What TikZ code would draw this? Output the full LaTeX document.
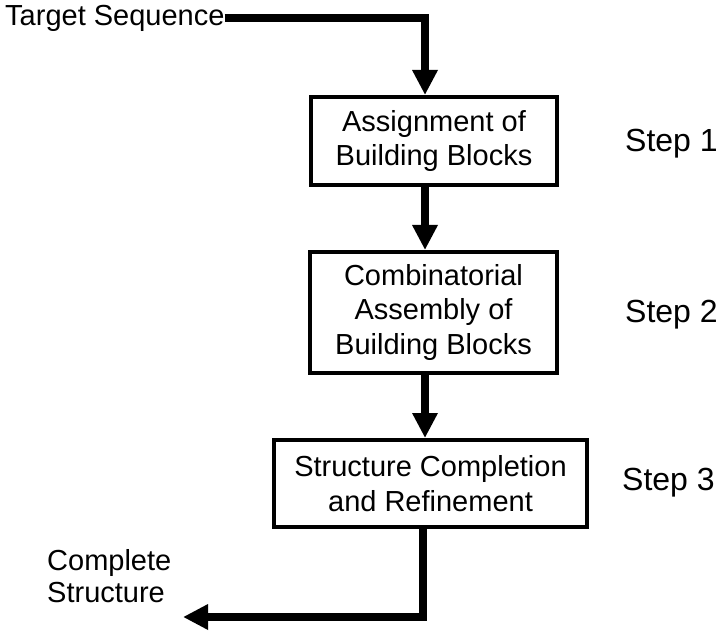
\documentclass[tikz,border=0pt]{standalone}
\usepackage{fontspec}
\setmainfont{Liberation Sans}
\usetikzlibrary{arrows.meta}
\begin{document}
\begin{tikzpicture}[x=1pt,y=-1pt,
  stepbox/.style={draw=black,line width=4pt,inner sep=0pt,align=center,
    font=\fontsize{29}{34.5}\selectfont},
  plain/.style={inner sep=0pt,font=\fontsize{29}{32}\selectfont},
  steplabel/.style={inner sep=0pt,anchor=base west,font=\fontsize{32}{36}\selectfont},
  flow/.style={line width=8pt,line join=miter,-{Triangle[length=25pt,width=24pt]}}
]
\useasboundingbox (0,0) rectangle (720,639);
\node[plain,anchor=base west] (ts) at (5,26) {Target Sequence};
\node[stepbox,minimum width=246pt,minimum height=88pt] (b1) at (434,141) {Assignment of\\Building Blocks};
\node[stepbox,minimum width=247pt,minimum height=121pt] (b2) at (433.5,312.5) {Combinatorial\\Assembly of\\Building Blocks};
\node[stepbox,minimum width=313pt,minimum height=87pt] (b3) at (430.5,483.5) {Structure Completion\\and Refinement};
\node[steplabel] (s1) at (625,152) {Step 1};
\node[steplabel] (s2) at (625,322) {Step 2};
\node[steplabel] (s3) at (622,490) {Step 3};
\node[plain,anchor=base west,align=left] (cs) at (47,602) {Complete\\Structure};
\coordinate (ax) at (425,0);
\coordinate (bx) at (423,0);
\coordinate (tr) at (425,18);
\coordinate (br) at (423,617);
\coordinate (bl) at (183,617);
\draw[flow] (ts.east |- tr) -- (tr) -- (b1.north -| ax);
\draw[flow] (b1.south -| ax) -- (b2.north -| ax);
\draw[flow] (b2.south -| ax) -- (b3.north -| ax);
\draw[flow] (b3.south -| bx) -- (br) -- (bl);
\end{tikzpicture}
\end{document}
